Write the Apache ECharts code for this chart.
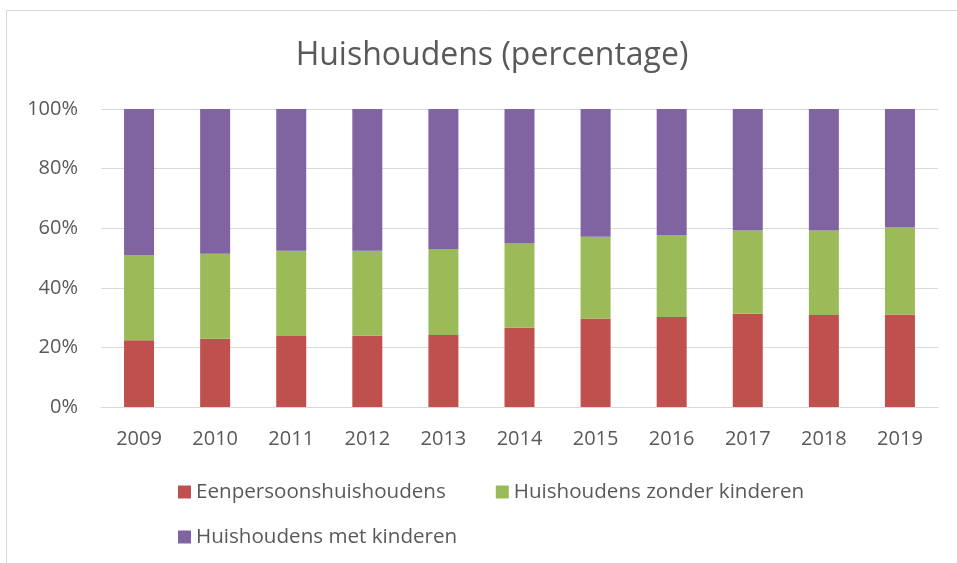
<!DOCTYPE html>
<html>
<head>
<meta charset="utf-8">
<script src="https://cdn.jsdelivr.net/npm/echarts@6/dist/echarts.min.js"></script>
<style>
html,body{margin:0;padding:0;background:#fff;}
#chart{width:957px;height:563px;}
</style>
</head>
<body>
<div id="chart"></div>
<script>
var categories = ['2009','2010','2011','2012','2013','2014','2015','2016','2017','2018','2019'];
var eenpersoons = [22.4, 22.9, 23.8, 23.9, 24.2, 26.6, 29.7, 30.2, 31.3, 30.9, 31.0];
var zonderKinderen = [28.6, 28.5, 28.6, 28.5, 28.8, 28.3, 27.4, 27.5, 27.9, 28.3, 29.2];
var metKinderen = [49.0, 48.6, 47.6, 47.6, 47.0, 45.1, 42.9, 42.3, 40.8, 40.8, 39.8];
var yTicks = [0, 20, 40, 60, 80, 100];

var font = '"Open Sans", "Liberation Sans", sans-serif';
var textColor = '#595959';

var chart = echarts.init(document.getElementById('chart'), null, {renderer: 'canvas'});
chart.setOption({
  animation: false,
  backgroundColor: '#ffffff',
  title: {
    text: 'Huishoudens (percentage)',
    left: 487,
    top: 35,
    textAlign: 'center',
    textStyle: {fontFamily: font, fontSize: 32, fontWeight: 'normal', color: textColor}
  },
  graphic: [
    {type: 'line', shape: {x1: 6, y1: 10.5, x2: 957, y2: 10.5}, style: {stroke: '#d9d9d9', lineWidth: 1}},
    {type: 'line', shape: {x1: 6.5, y1: 10, x2: 6.5, y2: 563}, style: {stroke: '#d9d9d9', lineWidth: 1}}
  ],
  legend: [
    {
      left: 178, top: 480, padding: 0, itemGap: 50,
      itemWidth: 13, itemHeight: 13, icon: 'rect',
      data: ['Eenpersoonshuishoudens', 'Huishoudens zonder kinderen'],
      textStyle: {fontFamily: font, fontSize: 20.6, color: textColor, lineHeight: 24}
    },
    {
      left: 178, top: 525, padding: 0,
      itemWidth: 13, itemHeight: 13, icon: 'rect',
      data: ['Huishoudens met kinderen'],
      textStyle: {fontFamily: font, fontSize: 20.6, color: textColor, lineHeight: 24}
    }
  ],
  grid: {left: 101, right: 19, top: 109, bottom: 156, containLabel: false},
  xAxis: {
    type: 'category',
    data: categories,
    axisLine: {show: true, lineStyle: {color: '#d9d9d9', width: 1}},
    axisTick: {show: false},
    axisLabel: {fontFamily: font, fontSize: 20, color: textColor, margin: 22}
  },
  yAxis: {
    type: 'value',
    min: yTicks[0],
    max: yTicks[yTicks.length - 1],
    interval: yTicks[1] - yTicks[0],
    axisLine: {show: false},
    axisTick: {show: false},
    splitLine: {lineStyle: {color: '#d9d9d9', width: 1}},
    axisLabel: {fontFamily: font, fontSize: 20, color: textColor, margin: 23, formatter: '{value}%'}
  },
  series: [
    {name: 'Eenpersoonshuishoudens', type: 'bar', stack: 'total', barWidth: 30, data: eenpersoons, itemStyle: {color: '#C0504D'}},
    {name: 'Huishoudens zonder kinderen', type: 'bar', stack: 'total', barWidth: 30, data: zonderKinderen, itemStyle: {color: '#9BBB59'}},
    {name: 'Huishoudens met kinderen', type: 'bar', stack: 'total', barWidth: 30, data: metKinderen, itemStyle: {color: '#8064A2'}}
  ]
});
</script>
</body>
</html>
